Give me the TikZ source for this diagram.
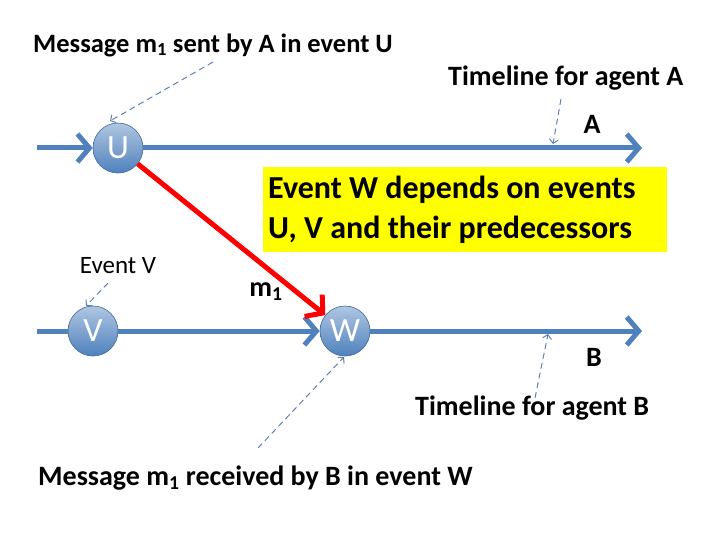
\documentclass[tikz,border=0pt]{standalone}
\usepackage{fontspec}
\setmainfont{Carlito}
\usetikzlibrary{arrows.meta}
\definecolor{lineblue}{RGB}{79,129,189}
\definecolor{dashblue}{RGB}{95,130,180}
\definecolor{notered}{RGB}{255,0,0}
\definecolor{noteyellow}{RGB}{255,255,0}
\tikzstyle{event} = [circle, minimum size=50pt, inner sep=0pt, draw=lineblue!80!black, line width=0.6pt, top color=lineblue!45!white, bottom color=lineblue, text=white, font=\fontsize{34}{38}\selectfont]
\tikzstyle{label} = [inner sep=0pt, font=\fontsize{28}{32}\selectfont\bfseries]
\tikzstyle{timeline} = [line width=5pt, draw=lineblue, -{Straight Barb[length=12pt,width=28pt,line width=5pt]}]
\tikzstyle{pointer} = [dash pattern=on 6pt off 4pt, line width=1pt, draw=dashblue, -{Straight Barb[length=4pt,width=9pt]}]

\begin{document}
\begin{tikzpicture}
[x=1pt,y=-1pt]
\useasboundingbox (0,0) rectangle (720,540);

% events
\node (U) [event] at (118,148) {U};
\node (V) [event] at (93,331) {V};
\node (W) [event] at (345,331) {W};
\coordinate (startA) at (37,148);
\coordinate (endA) at (642,148);
\coordinate (startB) at (37,331);
\coordinate (endB) at (642,331);

% timelines
\draw [timeline] (startA) -- (U);
\draw [timeline] (U) -- (endA);
\draw [line width=5pt, draw=lineblue] (startB) -- (V);
\draw [timeline] (V) -- (W);
\draw [timeline] (W) -- (endB);

% message
\draw [line width=5pt, draw=notered, -{Straight Barb[length=12pt,width=28pt,line width=5pt]}] (U) -- (W);

% note box
\node (note) [fill=noteyellow, anchor=north west, inner sep=0pt, minimum width=404pt, minimum height=85pt] at (263,167) {};
\node (notetext) [align=left, anchor=west, inner sep=0pt, font=\fontsize{32}{40}\selectfont\bfseries] at (268,210) {Event W depends on events\\U, V and their predecessors};

% labels
\node (sent) [label, anchor=west, font=\fontsize{26.5}{30}\selectfont\bfseries] at (33,45) {Message m\textsubscript{1} sent by A in event U};
\node (tlA) [label, anchor=west] at (448,78) {Timeline for agent A};
\node (nameA) [label] at (592,124) {A};
\node (evV) [inner sep=0pt, font=\fontsize{25}{29}\selectfont] at (118,266) {Event V};
\node (msg) [label] at (266,292) {m\textsubscript{1}};
\node (nameB) [label] at (594,357) {B};
\node (tlB) [label, anchor=west] at (415,408) {Timeline for agent B};
\node (recv) [label, anchor=west] at (38,478) {Message m\textsubscript{1} received by B in event W};

% pointers
\coordinate (pU) at (110,121);
\coordinate (pA) at (553,144);
\coordinate (pV) at (86,306);
\coordinate (pW) at (344,357);
\coordinate (pB) at (548,334);
\draw [pointer] (213,62) -- (pU);
\draw [pointer] (561,99) -- (pA);
\draw [pointer] (108,283) -- (pV);
\draw [pointer] (258,448) -- (pW);
\draw [pointer] (535,398) -- (pB);

\end{tikzpicture}
\end{document}
